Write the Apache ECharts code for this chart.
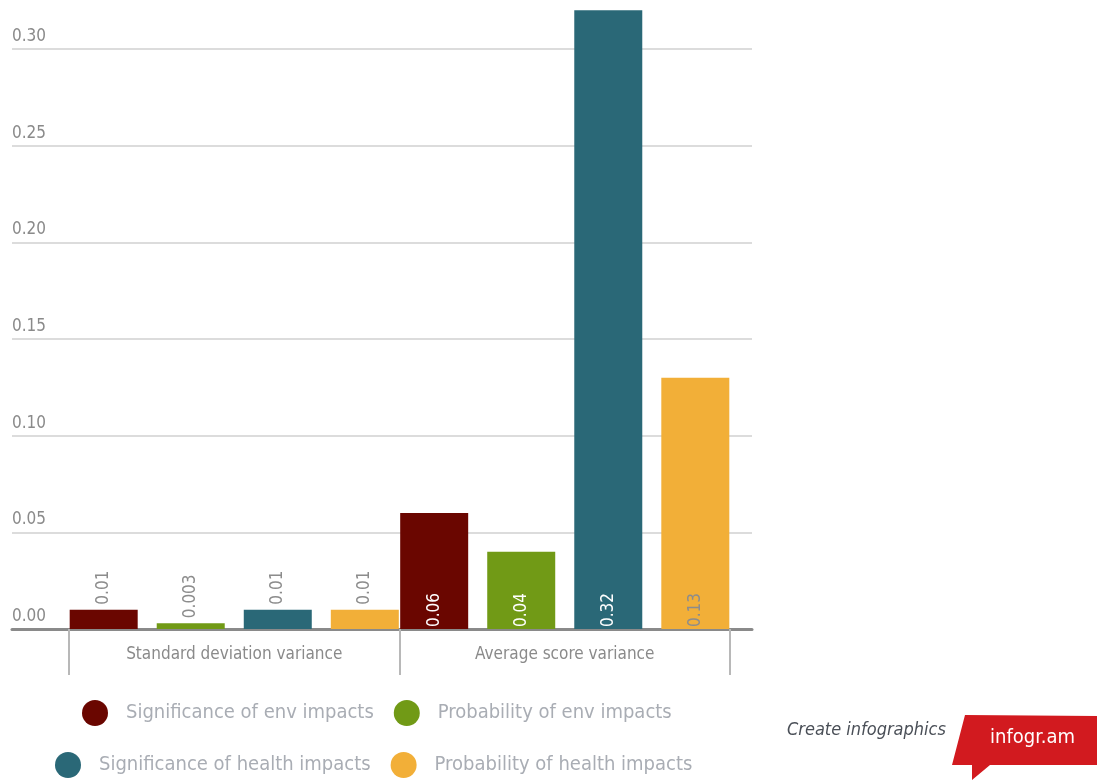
<!DOCTYPE html>
<html>
<head>
<meta charset="utf-8">
<script src="https://cdn.jsdelivr.net/npm/echarts@6/dist/echarts.min.js"></script>
<style>
  html, body { margin: 0; padding: 0; background: #ffffff; }
  #chart { width: 1097px; height: 780px; }
</style>
</head>
<body>
<div id="chart"></div>
<script>
// Variance of impact scores
const categories = ['Standard deviation variance', 'Average score variance'];
const seriesNames = [
  'Significance of env impacts',
  'Probability of env impacts',
  'Significance of health impacts',
  'Probability of health impacts'
];
const sigEnv = [0.01, 0.06];
const probEnv = [0.003, 0.04];
const sigHealth = [0.01, 0.32];
const probHealth = [0.01, 0.13];
const yTicks = [0, 0.05, 0.10, 0.15, 0.20, 0.25, 0.30];

const colors = ['#6a0600', '#719a16', '#2a6877', '#f2af38'];
const insideLabelColors = ['#ffffff', '#ffffff', '#ffffff', '#8c8c8c'];
const FONT = "'DejaVu Sans Condensed', 'Liberation Sans Narrow', 'Roboto', sans-serif";

const values = [sigEnv, probEnv, sigHealth, probHealth];

// first category: value above the bar; second: value inside the bar base
function buildData(vals, idx) {
  return vals.map((v, ci) => ({
    value: v,
    label: ci === 0 ? {
      position: 'top', distance: 5, color: '#8c8c8c'
    } : {
      position: 'insideBottom', distance: 2, color: insideLabelColors[idx]
    }
  }));
}

const series = values.map((vals, i) => ({
  name: seriesNames[i],
  type: 'bar',
  xAxisIndex: 1,
  yAxisIndex: 1,
  clip: false,
  barWidth: 68,
  barGap: '28%',
  itemStyle: { color: colors[i] },
  label: {
    show: true,
    rotate: 90,
    align: 'left',
    verticalAlign: 'middle',
    fontFamily: FONT,
    fontSize: 17,
    formatter: p => String(p.value)
  },
  data: buildData(vals, i)
}));

const chart = echarts.init(document.getElementById('chart'), null, { renderer: 'canvas' });
chart.setOption({
  backgroundColor: '#ffffff',
  animation: false,
  textStyle: { fontFamily: FONT },
  grid: [
    { left: 12, right: 345, top: 49, bottom: 151 },
    { left: 69, right: 367, top: 49, bottom: 151 }
  ],
  xAxis: [
    {
      gridIndex: 0, type: 'category', data: [''],
      axisLine: { show: true, lineStyle: { color: '#8a8a8a', width: 3 } },
      axisTick: { show: false }, axisLabel: { show: false }, splitLine: { show: false }
    },
    {
      gridIndex: 1, type: 'category', data: categories,
      axisLine: { show: false },
      axisTick: { show: true, interval: 0, length: 46, lineStyle: { color: '#b8b8b8', width: 2 } },
      axisLabel: { interval: 0, color: '#8a8a8a', fontSize: 17, margin: 17, fontFamily: FONT }
    }
  ],
  yAxis: [
    {
      gridIndex: 0, type: 'value', min: yTicks[0], max: yTicks[yTicks.length - 1], interval: 0.05,
      axisLine: { show: false }, axisTick: { show: false },
      splitLine: { lineStyle: { color: '#dcdcdc', width: 2 } },
      axisLabel: {
        inside: true, margin: 0, align: 'left', verticalAlign: 'bottom',
        padding: [0, 0, 4, 0],
        color: '#8a8a8a', fontSize: 17, fontFamily: FONT,
        formatter: v => v.toFixed(2)
      }
    },
    {
      gridIndex: 1, type: 'value', min: yTicks[0], max: yTicks[yTicks.length - 1], interval: 0.05,
      show: false, splitLine: { show: false }
    }
  ],
  legend: [
    {
      data: seriesNames.slice(0, 2), left: 82, top: 700, padding: 0,
      icon: 'circle', itemWidth: 26, itemHeight: 26, itemGap: 20,
      textStyle: { color: '#a9adb4', fontSize: 20, fontFamily: FONT, padding: [0, 0, 0, 13] }
    },
    {
      data: seriesNames.slice(2, 4), left: 55, top: 752, padding: 0,
      icon: 'circle', itemWidth: 26, itemHeight: 26, itemGap: 20,
      textStyle: { color: '#a9adb4', fontSize: 20, fontFamily: FONT, padding: [0, 0, 0, 13] }
    }
  ],
  graphic: [
    {
      type: 'text', left: 787, top: 721,
      style: { text: 'Create infographics', fill: '#4a4f57', font: "italic 18px " + FONT }
    },
    {
      type: 'polygon',
      shape: { points: [[965, 715], [1097, 716], [1097, 765], [990, 765], [972, 780], [972, 765], [952, 765]] },
      style: { fill: '#d21a1f' }
    },
    {
      type: 'text', left: 990, top: 728,
      style: { text: 'infogr.am', fill: '#ffffff', font: "20px " + FONT }
    }
  ],
  series: series
});
</script>
</body>
</html>
